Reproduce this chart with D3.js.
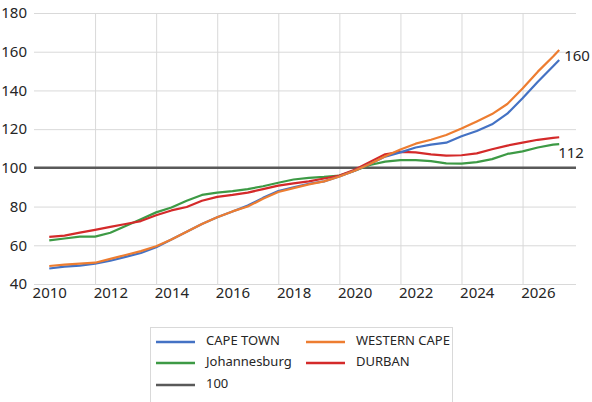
<!DOCTYPE html>
<html>
<head>
<meta charset="utf-8">
<script src="https://cdn.jsdelivr.net/npm/d3@7"></script>
<style>
  body { margin: 0; background: #fff; }
  svg text { font-family: "Noto Sans", "Open Sans", sans-serif; fill: #262626; }
</style>
</head>
<body>
<div id="chart"></div>
<script>
// --- chart data (half-year steps, last point is the latest month) ---
const YEARS = [2010.5, 2011, 2011.5, 2012, 2012.5, 2013, 2013.5, 2014, 2014.5, 2015, 2015.5,
  2016, 2016.5, 2017, 2017.5, 2018, 2018.5, 2019, 2019.5, 2020, 2020.5, 2021, 2021.5,
  2022, 2022.5, 2023, 2023.5, 2024, 2024.5, 2025, 2025.5, 2026, 2026.5, 2027, 2027.2];

const CAPE_TOWN = [48, 49, 49.5, 50.5, 52, 54, 56, 59, 63, 67, 71,
  74.5, 77.5, 80.5, 84.5, 88, 90, 91.8, 93, 95.5, 98.5, 102, 105.8,
  108, 110.5, 112, 113, 116.3, 119, 122.5, 128, 136, 144.5, 152.5, 155.7];

const WESTERN_CAPE = [49.3, 50, 50.5, 51, 53, 55, 57, 59.5, 63, 67, 71,
  74.5, 77.5, 80, 84, 87.5, 89.5, 91.5, 93, 95.5, 98.5, 102, 106,
  109.5, 112.5, 114.5, 117, 120.3, 124, 127.8, 133, 141, 149.7, 157.5, 160.9];

const JOHANNESBURG = [62.5, 63.5, 64.5, 64.5, 66.5, 70, 73.5, 77, 79.5, 83, 86,
  87.2, 88, 89, 90.5, 92.3, 94, 94.8, 95.3, 96, 98.5, 101.5, 103.2,
  104, 104, 103.5, 102.3, 102.2, 103, 104.5, 107.2, 108.5, 110.5, 112, 112.3];

const DURBAN = [64.3, 65, 66.5, 68, 69.5, 71, 72.5, 75.5, 78, 79.8, 83,
  85, 86, 87.2, 89, 90.8, 92, 93, 94.5, 96, 99, 103, 107,
  108.3, 108, 107, 106.3, 106.5, 107.5, 109.6, 111.5, 113, 114.5, 115.5, 115.8];

const BASELINE = 100;

const SERIES_NAMES = ["CAPE TOWN", "WESTERN CAPE", "Johannesburg", "DURBAN", "100"];
const SERIES_COLORS = ["#4472c4", "#ed7d31", "#3d9a45", "#d42a2a", "#595959"];

const Y_TICKS = [40, 60, 80, 100, 120, 140, 160, 180];
const X_TICKS = [2010, 2012, 2014, 2016, 2018, 2020, 2022, 2024, 2026];

// end-of-line value labels
const END_LABELS = [
  { series: "WESTERN CAPE", text: "160", dx: 5, dy: 7 },
  { series: "Johannesburg", text: "112", dx: -1, dy: 10 }
];

// --- drawing ---
const W = 592, H = 402;
const plot = { left: 34, right: 576, top: 13, bottom: 284 };

const svg = d3.select("#chart").append("svg")
  .attr("width", W).attr("height", H);

const x = d3.scaleLinear().domain([2010, 2027.75]).range([plot.left, plot.right]);
const y = d3.scaleLinear().domain([40, 180]).range([plot.bottom, plot.top]);

// gridlines
svg.append("g")
  .attr("transform", `translate(${plot.left},0)`)
  .call(d3.axisLeft(y).tickValues(Y_TICKS).tickSize(-(plot.right - plot.left)).tickFormat(""))
  .call(g => g.select(".domain").remove())
  .call(g => g.selectAll("line").attr("stroke", "#d9d9d9").attr("stroke-width", 1));

svg.append("g")
  .attr("transform", `translate(0,${plot.bottom})`)
  .call(d3.axisBottom(x).tickValues(X_TICKS.filter(d => d > 2010)).tickSize(-(plot.bottom - plot.top)).tickFormat(""))
  .call(g => g.select(".domain").remove())
  .call(g => g.selectAll("line").attr("stroke", "#d9d9d9").attr("stroke-width", 1));

// y labels
svg.append("g")
  .attr("transform", `translate(27,0)`)
  .call(d3.axisLeft(y).tickValues(Y_TICKS).tickSize(0).tickPadding(0))
  .call(g => g.select(".domain").remove())
  .call(g => g.selectAll("text").attr("font-size", 15).attr("font-family", "Noto Sans").attr("fill", "#262626"));

// x labels (centred half a year past each year line)
svg.append("g")
  .attr("transform", `translate(0,${plot.bottom + 3})`)
  .call(d3.axisBottom(x).tickValues(X_TICKS.map(d => d + 0.5)).tickFormat(d => Math.floor(d)).tickSize(0).tickPadding(0))
  .call(g => g.select(".domain").remove())
  .call(g => g.selectAll("text").attr("font-size", 15).attr("font-family", "Noto Sans").attr("fill", "#262626"));

// 100 line
svg.append("line")
  .attr("x1", plot.left).attr("x2", plot.right)
  .attr("y1", y(BASELINE)).attr("y2", y(BASELINE))
  .attr("stroke", SERIES_COLORS[4]).attr("stroke-width", 2.5);

const seriesData = [CAPE_TOWN, WESTERN_CAPE, JOHANNESBURG, DURBAN];
const line = d3.line().x((d, i) => x(YEARS[i])).y(d => y(d));

// draw in back-to-front order like the source
[2, 3, 0, 1].forEach(i => {
  svg.append("path")
    .datum(seriesData[i])
    .attr("fill", "none")
    .attr("stroke", SERIES_COLORS[i])
    .attr("stroke-width", 2.2)
    .attr("stroke-linejoin", "round")
    .attr("d", line);
});

END_LABELS.forEach(l => {
  const vals = seriesData[SERIES_NAMES.indexOf(l.series)];
  const last = vals.length - 1;
  svg.append("text")
    .attr("x", x(YEARS[last]) + l.dx)
    .attr("y", y(vals[last]) + l.dy)
    .attr("dominant-baseline", "middle")
    .attr("font-size", 15)
    .text(l.text);
});

// legend
const legend = svg.append("g");
legend.append("rect")
  .attr("x", 150.5).attr("y", 327.5).attr("width", 302).attr("height", 80)
  .attr("fill", "#fff").attr("stroke", "#d9d9d9");

const legendPos = [[156, 342], [306, 342], [156, 363], [306, 363], [156, 385]];
SERIES_NAMES.forEach((name, i) => {
  const [lx, ly] = legendPos[i];
  legend.append("line")
    .attr("x1", lx).attr("x2", lx + 39).attr("y1", ly).attr("y2", ly)
    .attr("stroke", SERIES_COLORS[i]).attr("stroke-width", 2.5);
  legend.append("text")
    .attr("x", lx + 50).attr("y", ly)
    .attr("dominant-baseline", "middle")
    .attr("font-size", 13)
    .text(name);
});
</script>
</body>
</html>
